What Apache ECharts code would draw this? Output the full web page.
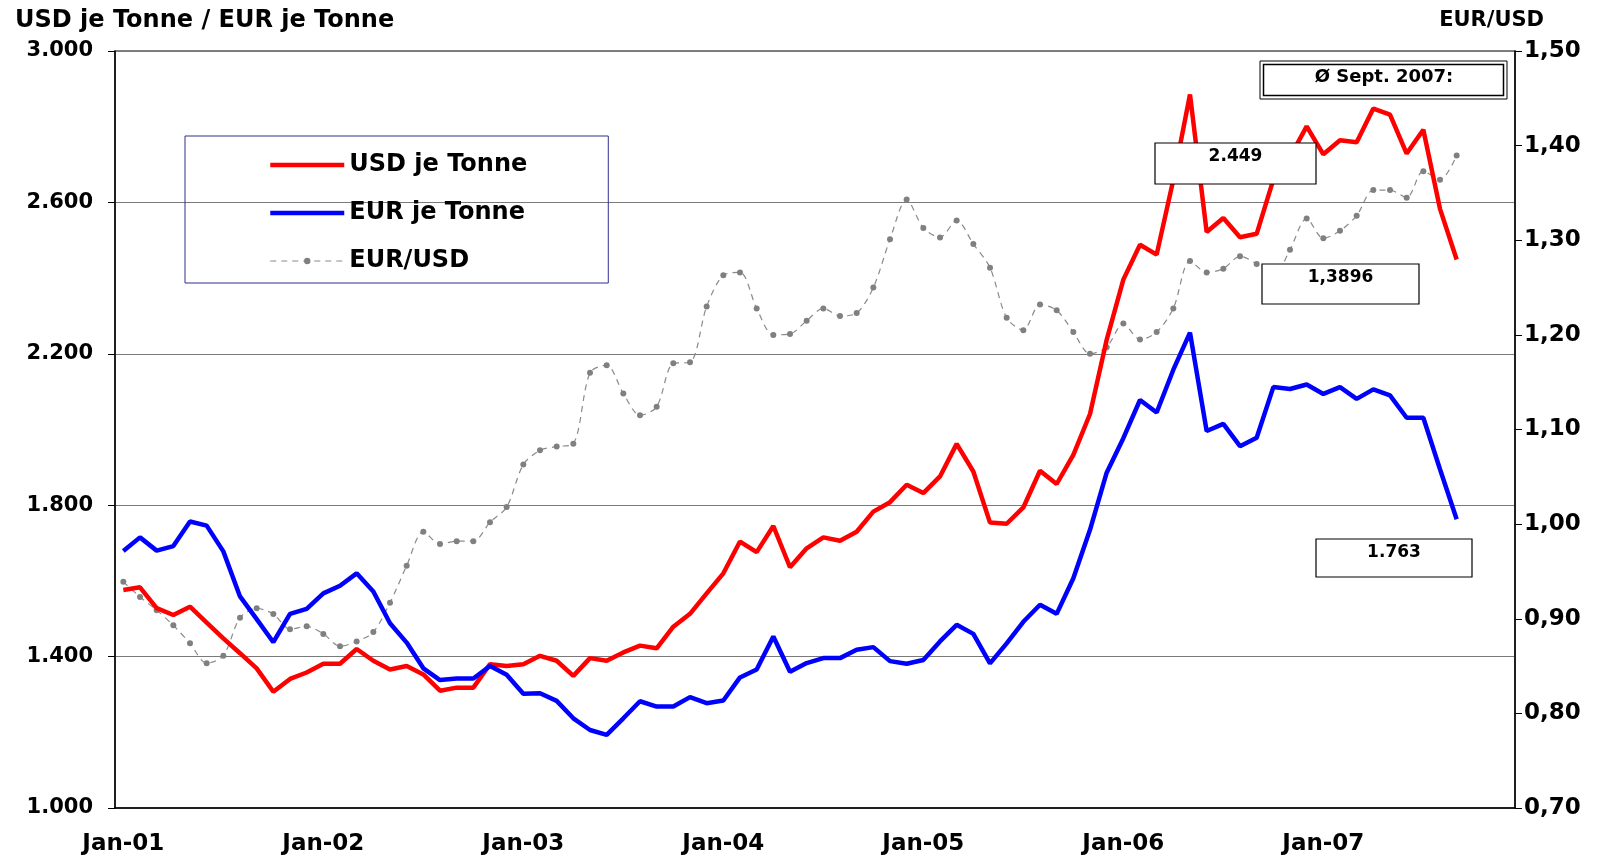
<!DOCTYPE html>
<html>
<head>
<meta charset="utf-8">
<script src="https://cdn.jsdelivr.net/npm/echarts@6/dist/echarts.min.js"></script>
<style>
  html, body { margin: 0; padding: 0; background: #fff; }
  #chart { width: 1603px; height: 861px; }
</style>
</head>
<body>
<div id="chart"></div>
<script>
// months Jan-01 .. Dec-07, data runs to Sep-07
const monthNames = ['Jan', 'Feb', 'Mar', 'Apr', 'May', 'Jun', 'Jul', 'Aug', 'Sep', 'Oct', 'Nov', 'Dec'];
const years = ['01', '02', '03', '04', '05', '06', '07'];

const usdPerTonne = [
  1576, 1583, 1528, 1510, 1532, 1490, 1448, 1409, 1369, 1307, 1341, 1358,
  1381, 1381, 1420, 1389, 1366, 1375, 1353, 1310, 1318, 1318, 1380, 1375,
  1380, 1402, 1389, 1349, 1396, 1389, 1411, 1429, 1422, 1479, 1513, 1567,
  1620, 1704, 1676, 1745, 1636, 1686, 1715, 1706, 1730, 1783, 1808, 1854,
  1832, 1876, 1962, 1889, 1754, 1751, 1794, 1891, 1856, 1933, 2041, 2237,
  2396, 2488, 2462, 2660, 2885, 2522, 2559, 2508, 2517, 2660, 2720, 2801,
  2727, 2764, 2759, 2848, 2832, 2729, 2792, 2583, 2449
];
const eurPerTonne = [
  1679, 1715, 1680, 1692, 1757, 1746, 1678, 1559, 1499, 1438, 1513, 1526,
  1567, 1587, 1620, 1572, 1488, 1437, 1369, 1338, 1342, 1342, 1375, 1352,
  1302, 1303, 1283, 1237, 1206, 1193, 1237, 1282, 1268, 1268, 1293, 1277,
  1284, 1345, 1366, 1453, 1360, 1383, 1396, 1396, 1418, 1425, 1388, 1381,
  1391, 1440, 1484, 1460, 1382, 1435, 1492, 1537, 1513, 1607, 1735, 1886,
  1977, 2078, 2045, 2158, 2256, 1996, 2015, 1956, 1978, 2112, 2107, 2119,
  2094, 2112, 2081, 2106, 2090, 2031, 2031, 1895, 1763
];
const eurUsd = [
  0.939, 0.923, 0.909, 0.893, 0.874, 0.853, 0.861, 0.901, 0.911, 0.905, 0.889, 0.892,
  0.884, 0.871, 0.876, 0.886, 0.917, 0.956, 0.992, 0.979, 0.982, 0.982, 1.002, 1.018,
  1.063, 1.078, 1.082, 1.085, 1.160, 1.168, 1.138, 1.115, 1.124, 1.170, 1.171, 1.230,
  1.263, 1.266, 1.228, 1.200, 1.201, 1.215, 1.228, 1.220, 1.223, 1.250, 1.301, 1.343,
  1.313, 1.303, 1.321, 1.296, 1.271, 1.218, 1.205, 1.232, 1.226, 1.203, 1.180, 1.187,
  1.212, 1.195, 1.203, 1.228, 1.278, 1.266, 1.270, 1.283, 1.275, 1.262, 1.290, 1.323,
  1.302, 1.310, 1.326, 1.353, 1.353, 1.345, 1.373, 1.364, 1.3896
];

const categories = [];
years.forEach(y => monthNames.forEach(m => categories.push(m + '-' + y)));

const FONT = '"DejaVu Sans", Arial, sans-serif';

const chart = echarts.init(document.getElementById('chart'));

// little boxed notes at the right side
const noteBox = (x, y, w, h, text, size) => ([
  {
    type: 'rect',
    shape: { x: x, y: y, width: w, height: h },
    style: { fill: '#fff', stroke: '#000', lineWidth: 1.2 },
    z: 100
  },
  {
    type: 'text',
    x: x + w / 2,
    y: y + 14,
    style: {
      text: text,
      font: 'bold ' + size + 'px ' + FONT,
      fill: '#000',
      align: 'center',
      verticalAlign: 'middle'
    },
    z: 101
  }
]);

chart.setOption({
  animation: false,
  backgroundColor: '#fff',
  title: [
    {
      text: 'USD je Tonne / EUR je Tonne',
      left: 10,
      top: 4,
      textStyle: { fontFamily: FONT, fontWeight: 'bold', fontSize: 24, color: '#000' }
    },
    {
      text: 'EUR/USD',
      right: 54,
      top: 5,
      textStyle: { fontFamily: FONT, fontWeight: 'bold', fontSize: 21, color: '#000' }
    }
  ],
  legend: {
    orient: 'vertical',
    left: 185,
    top: 136,
    padding: [15, 81, 8, 83],
    itemWidth: 74,
    itemHeight: 8,
    itemGap: 20,
    borderColor: '#2f2f8f',
    borderWidth: 1,
    textStyle: { fontFamily: FONT, fontWeight: 'bold', fontSize: 24, lineHeight: 28, color: '#000' },
    data: [
      { name: 'USD je Tonne', itemStyle: { opacity: 0 }, lineStyle: { width: 4.5 } },
      { name: 'EUR je Tonne', itemStyle: { opacity: 0 }, lineStyle: { width: 4.5 } },
      { name: 'EUR/USD', lineStyle: { width: 1.2 } }
    ]
  },
  grid: {
    left: 115,
    right: 88,
    top: 51,
    bottom: 53,
    show: true,
    borderColor: '#555',
    borderWidth: 1.5
  },
  xAxis: {
    type: 'category',
    data: categories,
    boundaryGap: true,
    axisLine: { lineStyle: { color: '#000', width: 1.5 } },
    axisTick: { interval: 11, length: 6, lineStyle: { color: '#000' } },
    axisLabel: {
      interval: 11,
      margin: 25,
      fontFamily: FONT,
      fontWeight: 'bold',
      fontSize: 23,
      color: '#000'
    },
    splitLine: { show: false }
  },
  yAxis: [
    {
      type: 'value',
      min: 1000,
      max: 3000,
      interval: 400,
      axisLine: { show: true, lineStyle: { color: '#000', width: 1.5 } },
      axisTick: { show: true, length: 7, lineStyle: { color: '#000' } },
      axisLabel: {
        margin: 22,
        fontFamily: FONT,
        fontWeight: 'bold',
        fontSize: 21,
        color: '#000',
        formatter: v => String(v).replace(/\B(?=(\d{3})+(?!\d))/g, '.')
      },
      splitLine: { lineStyle: { color: '#7a7a7a', width: 1 } }
    },
    {
      type: 'value',
      min: 0.7,
      max: 1.5,
      interval: 0.1,
      position: 'right',
      axisLine: { show: true, lineStyle: { color: '#000', width: 1.5 } },
      axisTick: { show: true, length: 7, lineStyle: { color: '#000' } },
      axisLabel: {
        margin: 9,
        fontFamily: FONT,
        fontWeight: 'bold',
        fontSize: 23,
        color: '#000',
        formatter: v => v.toFixed(2).replace('.', ',')
      },
      splitLine: { show: false }
    }
  ],
  series: [
    {
      name: 'USD je Tonne',
      type: 'line',
      data: usdPerTonne,
      yAxisIndex: 0,
      symbol: 'none',
      z: 4,
      color: '#ff0000',
      lineStyle: { color: '#ff0000', width: 4.5 }
    },
    {
      name: 'EUR je Tonne',
      type: 'line',
      data: eurPerTonne,
      yAxisIndex: 0,
      symbol: 'none',
      z: 4,
      color: '#0000ff',
      lineStyle: { color: '#0000ff', width: 4.5 }
    },
    {
      name: 'EUR/USD',
      type: 'line',
      data: eurUsd,
      yAxisIndex: 1,
      smooth: 0.3,
      symbol: 'circle',
      symbolSize: 6,
      z: 2,
      color: '#808080',
      itemStyle: { color: '#808080' },
      lineStyle: { color: '#8a8a8a', width: 1.2, type: [6, 5] }
    }
  ],
  graphic: [
    {
      type: 'rect',
      shape: { x: 1260, y: 61, width: 247, height: 38 },
      style: { fill: '#fff', stroke: '#000', lineWidth: 1 },
      z: 100
    },
    {
      type: 'rect',
      shape: { x: 1263.5, y: 64.5, width: 240, height: 31 },
      style: { fill: 'none', stroke: '#000', lineWidth: 1.5 },
      z: 101
    },
    {
      type: 'text',
      x: 1384,
      y: 77,
      style: {
        text: 'Ø Sept. 2007:',
        font: 'bold 18px ' + FONT,
        fill: '#000',
        align: 'center',
        verticalAlign: 'middle'
      },
      z: 102
    }
  ]
    .concat(noteBox(1155, 143, 161, 41, '2.449', 17))
    .concat(noteBox(1262, 264, 157, 40, '1,3896', 17))
    .concat(noteBox(1316, 539, 156, 38, '1.763', 17))
});
</script>
</body>
</html>
